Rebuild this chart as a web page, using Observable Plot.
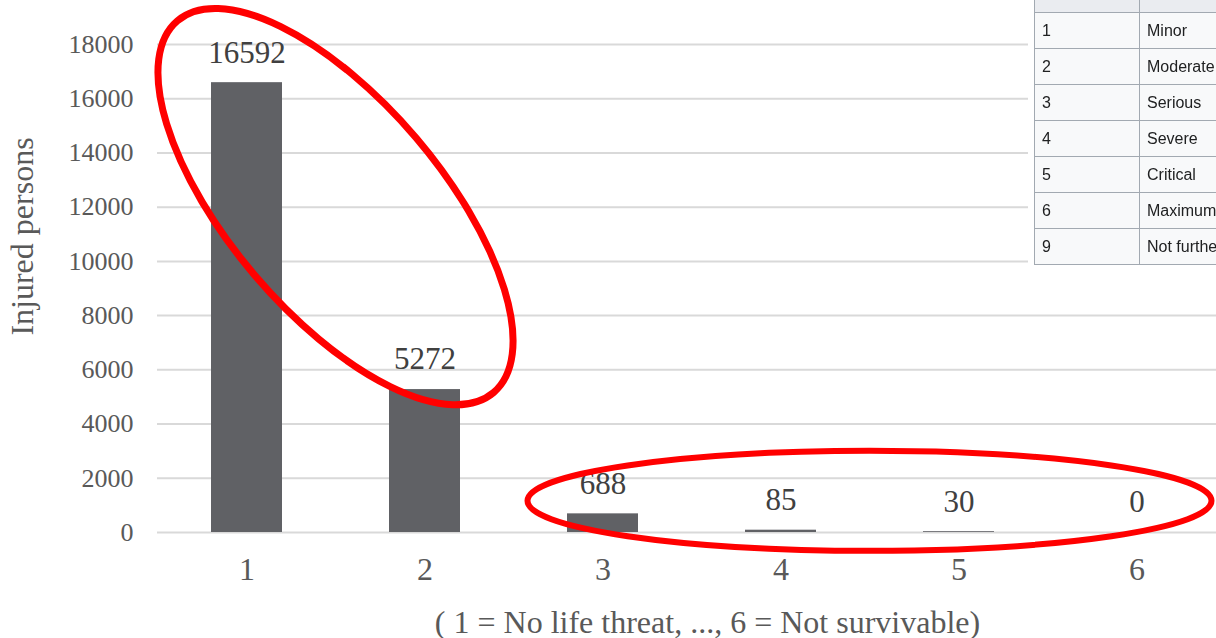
<!DOCTYPE html>
<html>
<head>
<meta charset="utf-8">
<script src="https://cdn.jsdelivr.net/npm/d3@7"></script>
<script src="https://cdn.jsdelivr.net/npm/@observablehq/plot@0.6"></script>
<style>
  html, body { margin: 0; padding: 0; background: #fff; overflow: hidden; }
  #chart { position: relative; width: 1216px; height: 638px; overflow: hidden; background: #fff; }
  #chart svg { position: absolute; left: 0; top: 0; max-width: none !important; }
  #ais { position: absolute; left: 1028px; top: 0; width: 188px; height: 269px; background: #fff; overflow: hidden; }
  #ais table {
    position: absolute; left: 6px; top: -24px;
    border-collapse: collapse; table-layout: fixed; width: 330px;
    font-family: "Liberation Sans", Arial, sans-serif; font-size: 16px; color: #202122;
    background: #f8f9fa; filter: blur(0.3px);
  }
  #ais th, #ais td { border: 1px solid #a2a9b1; height: 35px; padding: 0 7px; text-align: left; white-space: nowrap; overflow: hidden; }
  #ais th { background: #eaecf0; }
</style>
</head>
<body>
<div id="chart"></div>
<script>
// Injury severity (AIS-style scale) and number of injured persons per level
const severity = ["1", "2", "3", "4", "5", "6"];
const injured = [16592, 5272, 688, 85, 30, 0];
const yTicks = [0, 2000, 4000, 6000, 8000, 10000, 12000, 14000, 16000, 18000];
const yTitle = "Injured persons";
const xTitle = "( 1 = No life threat, ..., 6 = Not survivable)";

// Reference table of the scale codes
const aisCodes = ["1", "2", "3", "4", "5", "6", "9"];
const aisNames = ["Minor", "Moderate", "Serious", "Severe", "Critical", "Maximum", "Not further specified"];

// Hand-drawn highlight rings around groups of bars
const highlights = [
  {from: "1", to: "2", value: 12000, rx: 244, ry: 106, angle: 49.6, width: 7},
  {from: "3", to: "6", value: 1150, rx: 342, ry: 50, angle: 0, width: 6}
];

const data = severity.map((s, i) => ({severity: s, injured: injured[i]}));

const chart = Plot.plot({
  width: 1228,
  height: 638,
  marginLeft: 157,
  marginRight: 1,
  marginTop: 44,
  marginBottom: 106,
  style: {
    fontFamily: "'Liberation Serif', 'Times New Roman', serif",
    color: "#595959",
    background: "transparent",
    overflow: "visible",
    maxWidth: "none"
  },
  x: {domain: severity, paddingInner: 0.6, paddingOuter: 0.3, label: null},
  y: {domain: [0, 18000], label: null},
  marks: [
    Plot.gridY(yTicks, {stroke: "#d9d9d9", strokeOpacity: 1, strokeWidth: 2}),
    Plot.barY(data, {x: "severity", y: "injured", fill: "#606165"}),
    Plot.text(data, {x: "severity", y: "injured", text: d => String(d.injured), dy: -30, fontSize: 31, fill: "#404040"}),
    Plot.axisY(yTicks, {tickSize: 0, tickPadding: 24, fontSize: 26, tickFormat: d => String(d), label: null}),
    Plot.axisX({tickSize: 0, tickPadding: 25, fontSize: 32, label: null}),
    Plot.text([xTitle], {frameAnchor: "bottom", dx: 15, dy: 100, fontSize: 32, fill: "#595959"}),
    Plot.text([yTitle], {frameAnchor: "left", textAnchor: "middle", rotate: -90, dx: -135, dy: -52, fontSize: 32, fill: "#595959"})
  ]
});
chart.style.maxWidth = "none";
chart.style.width = "1228px";
chart.style.height = "638px";

// Overlay the highlight rings, placed through the chart's own scales
const xs = chart.scale("x");
const ys = chart.scale("y");
const center = s => xs.apply(s) + xs.bandwidth / 2;
const svg = d3.select(chart);
svg.append("defs").append("filter")
    .attr("id", "soft-ring")
    .attr("x", "-10%").attr("y", "-10%").attr("width", "120%").attr("height", "120%")
  .append("feGaussianBlur").attr("stdDeviation", 0.7);
svg.append("g")
    .attr("filter", "url(#soft-ring)")
  .selectAll("ellipse")
  .data(highlights)
  .join("ellipse")
    .attr("transform", d => `translate(${(center(d.from) + center(d.to)) / 2},${ys.apply(d.value)}) rotate(${d.angle})`)
    .attr("rx", d => d.rx)
    .attr("ry", d => d.ry)
    .attr("fill", "none")
    .attr("stroke", "#ff0000")
    .attr("stroke-width", d => d.width);

const root = document.getElementById("chart");
root.appendChild(chart);

// Code table shown in the upper right corner (header row runs off the top)
const box = d3.select(root).append("div").attr("id", "ais");
const table = box.append("table");
const cols = table.append("colgroup");
cols.append("col").style("width", "105px");
cols.append("col").style("width", "225px");
table.append("tr").selectAll("th").data([0, 1]).join("th");
aisCodes.forEach((code, i) => {
  const tr = table.append("tr");
  tr.append("td").text(code);
  tr.append("td").text(aisNames[i]);
});
</script>
</body>
</html>
